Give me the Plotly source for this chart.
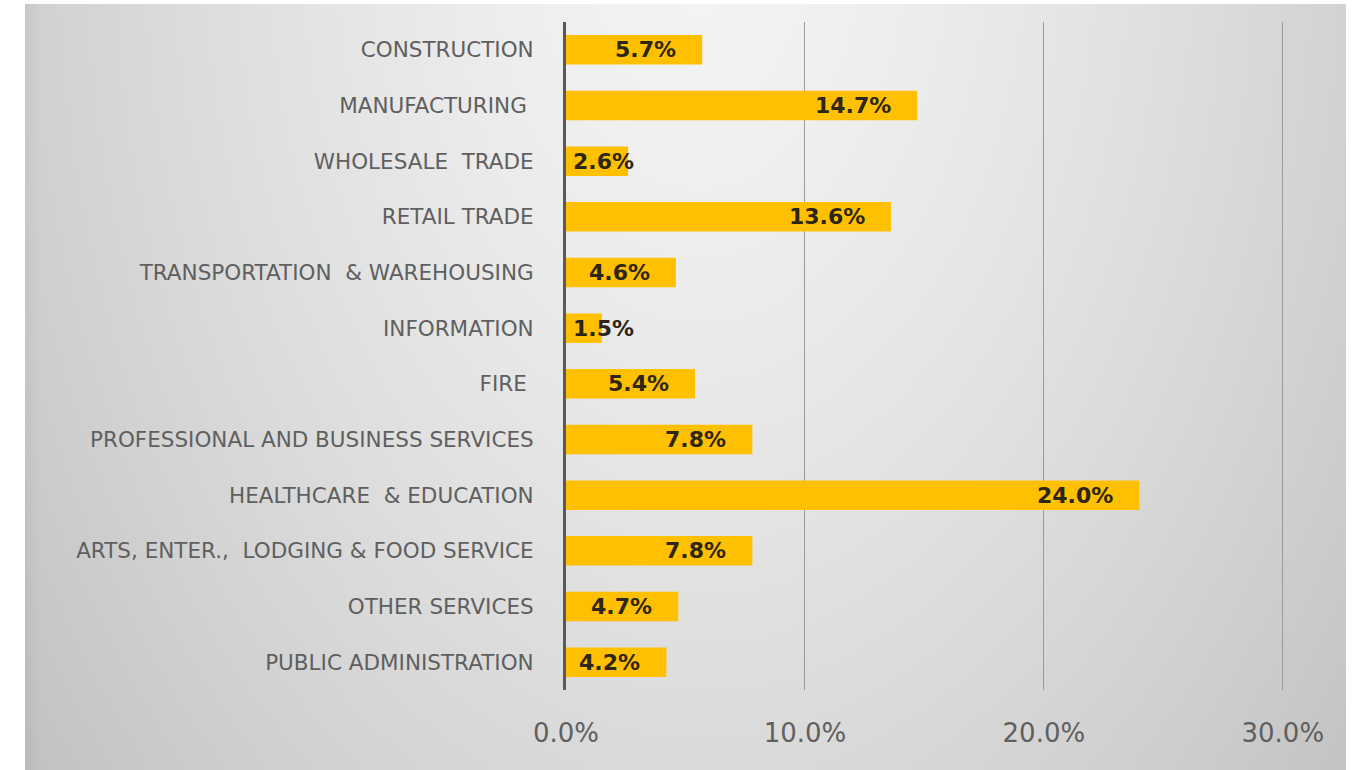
import base64
import struct
import zlib

import numpy as np
import plotly.graph_objects as go

# Share of employment by industry (%), listed top to bottom
industries = [
    "CONSTRUCTION",
    "MANUFACTURING\u00a0",
    "WHOLESALE\u00a0 TRADE",
    "RETAIL TRADE",
    "TRANSPORTATION\u00a0 & WAREHOUSING",
    "INFORMATION",
    "FIRE\u00a0",
    "PROFESSIONAL AND BUSINESS SERVICES",
    "HEALTHCARE\u00a0 & EDUCATION",
    "ARTS, ENTER.,\u00a0 LODGING & FOOD SERVICE",
    "OTHER SERVICES",
    "PUBLIC ADMINISTRATION",
]
shares = [5.7, 14.7, 2.6, 13.6, 4.6, 1.5, 5.4, 7.8, 24.0, 7.8, 4.7, 4.2]
value_labels = ["5.7%", "14.7%", "2.6%", "13.6%", "4.6%", "1.5%", "5.4%",
                "7.8%", "24.0%", "7.8%", "4.7%", "4.2%"]
x_ticks = [0, 10, 20, 30]
x_tick_text = ["0.0%", "10.0%", "20.0%", "30.0%"]

W, H = 1365, 770
ML, MR, MT, MB = 566, 81, 22, 80
plot_w = W - ML - MR
plot_h = H - MT - MB


def gray_png(arr):
    """Encode a 2-D uint8 array as a grayscale PNG data URI."""
    h, w = arr.shape
    raw = b"".join(b"\x00" + arr[r].tobytes() for r in range(h))

    def chunk(tag, data):
        c = struct.pack(">I", len(data)) + tag + data
        return c + struct.pack(">I", zlib.crc32(tag + data) & 0xFFFFFFFF)

    png = (b"\x89PNG\r\n\x1a\n"
           + chunk(b"IHDR", struct.pack(">IIBBBBB", w, h, 8, 0, 0, 0, 0))
           + chunk(b"IDAT", zlib.compress(raw, 9))
           + chunk(b"IEND", b""))
    return "data:image/png;base64," + base64.b64encode(png).decode()


# Soft radial grey fill behind the chart area
bx0, bx1, by0, by1 = 25, 1346, 4, 770
step = 2
xs = np.arange(bx0, bx1, step) + step / 2
ys = np.arange(by0, by1, step) + step / 2
gx, gy = np.meshgrid(xs, ys)
t = np.sqrt(((gx - 700) / 660) ** 2 + ((gy + 60) / 1000) ** 2)
shade = 244 - 34 * t ** 1.4
# slightly darker strip along the left edge
shade -= 8 * np.clip(1 - (gx - bx0) / 14, 0, 1)
shade = np.clip(shade, 0, 255).astype(np.uint8)
bg_uri = gray_png(shade)

fig = go.Figure()
fig.add_trace(go.Bar(
    y=industries,
    x=shares,
    orientation="h",
    marker=dict(color="#FFC000", line=dict(width=0)),
    hoverinfo="skip",
))

# Value labels sit inside the bar end; short bars keep them at the bar start
px_per_unit = plot_w / 30.0
annotations = []
for name, val, lab in zip(industries, shares, value_labels):
    if val * px_per_unit - 25 < 70:
        annotations.append(dict(x=0, y=name, text=lab, xanchor="left",
                                xshift=5, showarrow=False))
    else:
        annotations.append(dict(x=val, y=name, text=lab, xanchor="right",
                                xshift=-24, showarrow=False))
for a in annotations:
    a.update(xref="x", yref="y", yanchor="middle",
             font=dict(family="DejaVu Sans", size=22, color="#2e2614",
                       weight="bold"))

fig.update_layout(
    width=W,
    height=H,
    margin=dict(l=ML, r=MR, t=MT, b=MB, pad=0),
    paper_bgcolor="white",
    plot_bgcolor="rgba(0,0,0,0)",
    bargap=0.47,
    showlegend=False,
    annotations=annotations,
    images=[dict(
        source=bg_uri,
        xref="paper", yref="paper",
        x=(bx0 - ML) / plot_w,
        y=(H - MB - by0) / plot_h,
        sizex=(bx1 - bx0) / plot_w,
        sizey=(by1 - by0) / plot_h,
        xanchor="left", yanchor="top",
        sizing="stretch",
        layer="below",
    )],
    xaxis=dict(
        range=[0, 30.05],
        tickvals=x_ticks,
        ticktext=x_tick_text,
        showgrid=True,
        gridcolor="#9a9a9a",
        gridwidth=1,
        zeroline=False,
        showline=False,
        ticks="",
        ticklabelstandoff=25,
        tickfont=dict(family="DejaVu Sans", size=26, color="#5f5f5f"),
        fixedrange=True,
    ),
    yaxis=dict(
        autorange="reversed",
        showgrid=False,
        showline=True,
        linecolor="#595959",
        linewidth=3,
        ticks="",
        ticklabelstandoff=25,
        tickfont=dict(family="DejaVu Sans", size=21.5, color="#5f5f5f"),
        fixedrange=True,
    ),
)

fig.write_html("out.html", config={"displayModeBar": False})
